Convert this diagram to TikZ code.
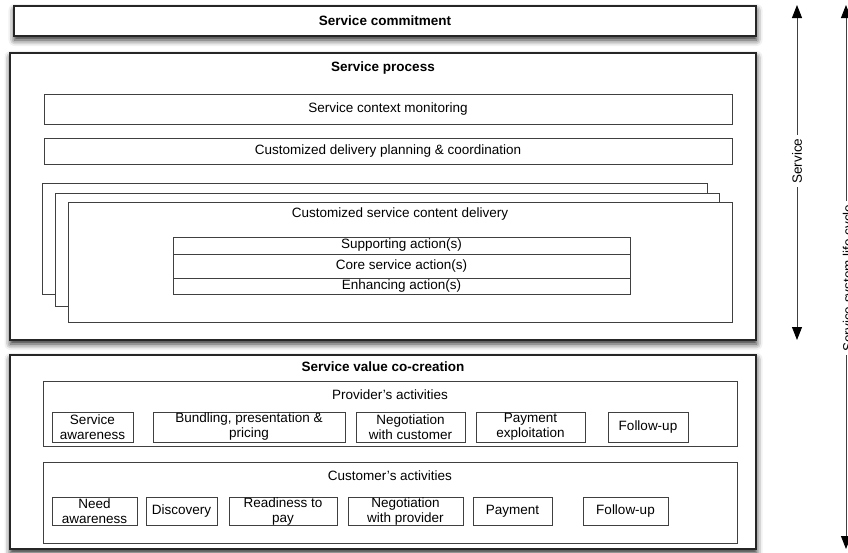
\documentclass[tikz,border=0pt]{standalone}
\usepackage{fontspec}
\setmainfont{Liberation Sans}
\usetikzlibrary{arrows.meta,shadows.blur}

\tikzset{
	layer/.style={draw=black!85, line width=1.4pt, fill=white,
		blur shadow={shadow xshift=0.5pt, shadow yshift=-4pt, shadow blur radius=6pt, shadow opacity=85}},
	part/.style={draw=black!75, line width=0.9pt, fill=white, inner sep=0pt},
	lbl/.style={font=\fontsize{13.5}{15}\selectfont},
	head/.style={font=\fontsize{13.5}{15}\selectfont\bfseries},
	act/.style={part, lbl, align=center},
	span/.style={draw=black!75, line width=0.9pt},
	tip/.style={-{Triangle[length=13pt,width=10pt,color=black]}},
}

\begin{document}
\begin{tikzpicture}[x=1pt,y=-1pt]
	\useasboundingbox (0,0) rectangle (848,552);

	% the three layers
	\node[layer, head, minimum width=742, minimum height=30] (commit) at (385,21) {Service commitment};
	\node[layer, minimum width=746, minimum height=287] (process) at (383,196.5) {};
	\node[layer, minimum width=746, minimum height=194] (value) at (383,452) {};
	\node[head] (processT) at (383,68) {Service process};
	\node[head] (valueT) at (383,367) {Service value co-creation};

	% service process
	\node[part, lbl, minimum width=688, minimum height=30] (monitor) at (388,109) {Service context monitoring};
	\node[part, lbl, minimum width=688, minimum height=26] (planning) at (388,151) {Customized delivery planning \& coordination};

	\node[part, minimum width=665, minimum height=111] (deliv3) at (374.5,238.5) {};
	\node[part, minimum width=664, minimum height=113] (deliv2) at (387,249.5) {};
	\node[part, minimum width=664, minimum height=120] (deliv1) at (400,262) {};
	\node[lbl] (delivT) at (400,214) {Customized service content delivery};

	\node[part, lbl, minimum width=457, minimum height=17] (support) at (401.5,245.5) {Supporting action(s)};
	\node[part, lbl, minimum width=457, minimum height=24] (core) at (401.5,266) {Core service action(s)};
	\node[part, lbl, minimum width=457, minimum height=16] (enhance) at (401.5,286) {Enhancing action(s)};

	% provider side
	\node[part, minimum width=694, minimum height=65] (provider) at (390,413.5) {};
	\node[lbl] (providerT) at (390,395) {Provider's activities};
	\node[act, minimum width=81, minimum height=30] (pAware) at (92.5,427) {Service\\awareness};
	\node[act, minimum width=192, minimum height=30] (pBundle) at (249,427) {Bundling, presentation \&\\pricing};
	\node[act, minimum width=109, minimum height=30] (pNego) at (410.5,427) {Negotiation\\with customer};
	\node[act, minimum width=109, minimum height=30] (pPay) at (530.5,427) {Payment\\exploitation};
	\node[act, minimum width=80, minimum height=30] (pFollow) at (648,427) {Follow-up};

	% customer side
	\node[part, minimum width=694, minimum height=81] (customer) at (390,502.5) {};
	\node[lbl] (customerT) at (390,476) {Customer's activities};
	\node[act, minimum width=85, minimum height=28] (cNeed) at (94.5,511) {Need\\awareness};
	\node[act, minimum width=71, minimum height=28] (cDisc) at (181.5,511) {Discovery};
	\node[act, minimum width=108, minimum height=28] (cReady) at (283,511) {Readiness to\\pay};
	\node[act, minimum width=115, minimum height=28] (cNego) at (405.5,511) {Negotiation\\with provider};
	\node[act, minimum width=79, minimum height=28] (cPay) at (512.5,511) {Payment};
	\node[act, minimum width=85, minimum height=28] (cFollow) at (625.5,511) {Follow-up};

	% spans on the right
	\node[lbl, rotate=90] (srv) at (797,161) {Service};
	\coordinate (srvTop) at (797,5);
	\coordinate (srvBot) at (797,340);
	\draw[span, tip] (srv.east) -- (srvTop);
	\draw[span, tip] (srv.west) -- (srvBot);

	\node[lbl, rotate=90] (cycle) at (849,278) {Service system life cycle};
	\coordinate (cycTop) at (846,5);
	\coordinate (cycBot) at (846,549);
	\draw[span, tip] (cycle.east -| cycTop) -- (cycTop);
	\draw[span, tip] (cycle.west -| cycBot) -- (cycBot);
\end{tikzpicture}
\end{document}
